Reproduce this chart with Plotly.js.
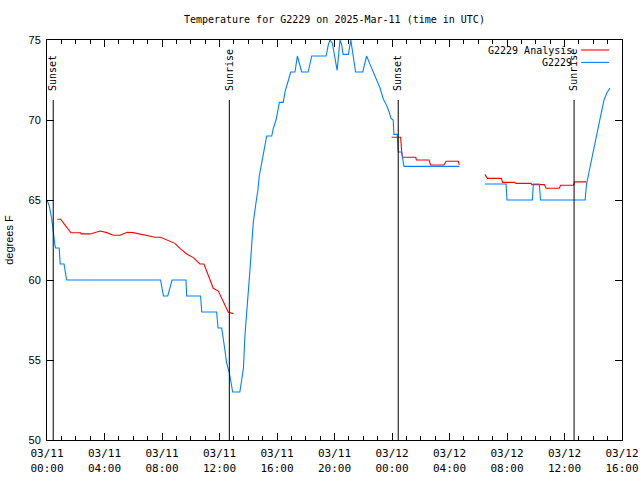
<!DOCTYPE html>
<html>
<head>
<meta charset="utf-8">
<script src="https://cdn.plot.ly/plotly-3.0.1.min.js"></script>
<style>html,body{margin:0;padding:0;background:#fff;}#chart{width:640px;height:480px;}</style>
</head>
<body>
<div id="chart"></div>
<script>
// G2229 observations
const obsTime = [
'2025-03-11 00:00','2025-03-11 00:10','2025-03-11 00:20','2025-03-11 00:26','2025-03-11 00:33','2025-03-11 00:36','2025-03-11 00:51','2025-03-11 00:55','2025-03-11 01:11','2025-03-11 01:22',
'2025-03-11 07:54','2025-03-11 08:06','2025-03-11 08:24','2025-03-11 08:42','2025-03-11 09:40','2025-03-11 09:43','2025-03-11 10:41','2025-03-11 10:46','2025-03-11 11:48','2025-03-11 11:54',
'2025-03-11 12:09','2025-03-11 12:19','2025-03-11 12:26','2025-03-11 12:30','2025-03-11 12:41','2025-03-11 12:51','2025-03-11 12:55','2025-03-11 13:25','2025-03-11 13:32','2025-03-11 13:40',
'2025-03-11 13:46','2025-03-11 13:53','2025-03-11 14:00','2025-03-11 14:07','2025-03-11 14:21','2025-03-11 14:26','2025-03-11 14:32','2025-03-11 14:40','2025-03-11 14:46','2025-03-11 14:56',
'2025-03-11 15:03','2025-03-11 15:10','2025-03-11 15:17','2025-03-11 15:38','2025-03-11 15:45','2025-03-11 15:56','2025-03-11 16:06','2025-03-11 16:10','2025-03-11 16:26','2025-03-11 16:34',
'2025-03-11 16:48','2025-03-11 16:57','2025-03-11 17:15','2025-03-11 17:25','2025-03-11 17:43','2025-03-11 18:10','2025-03-11 18:25','2025-03-11 19:25','2025-03-11 19:34','2025-03-11 19:41',
'2025-03-11 19:51','2025-03-11 20:01','2025-03-11 20:11','2025-03-11 20:23','2025-03-11 20:30','2025-03-11 20:36','2025-03-11 20:58','2025-03-11 21:08','2025-03-11 21:18','2025-03-11 21:28',
'2025-03-11 21:58','2025-03-11 22:14','2025-03-11 22:25','2025-03-11 22:39','2025-03-11 22:56','2025-03-11 23:10','2025-03-11 23:24','2025-03-11 23:38','2025-03-11 23:48','2025-03-11 23:56',
'2025-03-12 00:05','2025-03-12 00:08','2025-03-12 00:22','2025-03-12 00:26','2025-03-12 00:40','2025-03-12 00:50','2025-03-12 04:41','2025-03-12 05:30','2025-03-12 06:28','2025-03-12 07:56',
'2025-03-12 08:00','2025-03-12 09:46','2025-03-12 09:50','2025-03-12 10:15','2025-03-12 10:20','2025-03-12 13:26','2025-03-12 13:32','2025-03-12 13:48','2025-03-12 14:02','2025-03-12 14:16',
'2025-03-12 14:30','2025-03-12 14:45','2025-03-12 14:57','2025-03-12 15:10'
];
const obsTemp = [
65.0,64.6,63.8,62.9,62.2,62.0,62.0,61.0,61.0,60.0,
60.0,59.0,59.0,60.0,60.0,59.0,59.0,58.0,58.0,57.0,
57.0,56.0,55.0,54.8,54.2,53.5,53.0,53.0,53.8,54.5,
56.5,58.1,59.6,60.6,63.6,64.3,64.8,65.6,66.5,67.3,
67.8,68.4,69.0,69.0,69.5,70.0,70.8,71.1,71.1,71.8,
72.5,73.0,73.0,74.0,73.0,73.0,74.0,74.0,74.7,75.0,
74.8,74.0,73.1,75.0,74.7,74.1,74.1,75.0,74.1,73.0,
73.0,74.0,73.6,73.1,72.6,72.0,71.3,70.9,70.5,70.1,
70.0,69.1,69.1,68.0,68.0,67.1,67.1,null,66.0,66.0,
65.0,65.0,66.0,66.0,65.0,65.0,66.0,67.1,68.1,69.2,
70.2,71.25,71.7,72.0
];

// G2229 Analysis
const anaTime = [
'2025-03-11 00:43','2025-03-11 00:57','2025-03-11 01:17','2025-03-11 01:40','2025-03-11 02:20','2025-03-11 02:22','2025-03-11 03:00','2025-03-11 03:22','2025-03-11 03:42','2025-03-11 04:10',
'2025-03-11 04:37','2025-03-11 05:05','2025-03-11 05:35','2025-03-11 06:00','2025-03-11 06:28','2025-03-11 07:03','2025-03-11 07:31','2025-03-11 07:54','2025-03-11 08:20','2025-03-11 08:54',
'2025-03-11 09:15','2025-03-11 09:43','2025-03-11 10:11','2025-03-11 10:38','2025-03-11 10:55','2025-03-11 11:13','2025-03-11 11:34','2025-03-11 11:55','2025-03-11 12:16','2025-03-11 12:37',
'2025-03-11 12:58','2025-03-11 18:00','2025-03-11 23:59','2025-03-12 00:36','2025-03-12 00:40','2025-03-12 00:44','2025-03-12 01:39','2025-03-12 01:42','2025-03-12 02:35','2025-03-12 02:41',
'2025-03-12 03:37','2025-03-12 03:46','2025-03-12 04:37','2025-03-12 04:41','2025-03-12 05:30','2025-03-12 06:28','2025-03-12 06:38','2025-03-12 07:36','2025-03-12 07:42','2025-03-12 08:31',
'2025-03-12 08:38','2025-03-12 09:40','2025-03-12 09:44','2025-03-12 10:36','2025-03-12 10:43','2025-03-12 11:38','2025-03-12 11:44','2025-03-12 12:37','2025-03-12 12:43','2025-03-12 13:32'
];
const anaTemp = [
63.8,63.8,63.4,62.95,62.95,62.88,62.88,62.98,63.06,62.96,
62.8,62.8,62.98,62.96,62.88,62.77,62.67,62.67,62.5,62.29,
61.98,61.63,61.4,61.0,61.0,60.3,59.48,59.31,58.65,57.98,
57.9,null,68.92,68.92,68.1,67.67,67.67,67.5,67.5,67.19,
67.19,67.42,67.42,67.19,null,66.6,66.35,66.35,66.1,66.1,
66.04,66.04,65.96,65.96,65.73,65.73,65.92,65.92,66.13,66.13
];

// Sunrise / sunset markers
const sunTimes = ['2025-03-11 00:26','2025-03-11 12:41','2025-03-12 00:26','2025-03-12 12:40'];
const sunLabels = ['Sunset','Sunrise','Sunset','Sunrise'];
const sunLineTop = 71.25;

const seriesNames = ['G2229 Analysis','G2229'];
const seriesColors = ['#ff0000','#0080ff'];

const mono = 'DejaVu Sans Mono, monospace';
const sans = 'Liberation Sans, Arial, sans-serif';

const traces = [
  {x: anaTime, y: anaTemp, type: 'scatter', mode: 'lines', name: seriesNames[0],
   line: {color: seriesColors[0], width: 1.1}, connectgaps: false, showlegend: false},
  {x: obsTime, y: obsTemp, type: 'scatter', mode: 'lines', name: seriesNames[1],
   line: {color: seriesColors[1], width: 1.1}, connectgaps: false, showlegend: false}
];

const shapes = sunTimes.map(t => ({
  type: 'line', xref: 'x', yref: 'y', x0: t, x1: t, y0: 50, y1: sunLineTop,
  line: {color: '#000', width: 1}
}));

const annotations = sunTimes.map((t, i) => ({
  x: t, y: 71.7, xref: 'x', yref: 'y', text: sunLabels[i], textangle: -90,
  showarrow: false, xanchor: 'center', yanchor: 'bottom',
  font: {family: mono, size: 10, color: '#000'}
}));

// custom legend (text right, sample line after it)
const legendY = [0.975, 0.944];
seriesNames.forEach((n, i) => {
  annotations.push({x: 0.9165, y: legendY[i], xref: 'paper', yref: 'paper', text: n,
    showarrow: false, xanchor: 'right', yanchor: 'middle',
    font: {family: mono, size: 10, color: '#000'}});
  shapes.push({type: 'line', xref: 'paper', yref: 'paper', x0: 0.929, x1: 0.9775,
    y0: legendY[i], y1: legendY[i], line: {color: seriesColors[i], width: 1.1}});
});

const layout = {
  width: 640, height: 480,
  margin: {l: 47, r: 18, t: 40, b: 40},
  paper_bgcolor: '#fff', plot_bgcolor: '#fff',
  showlegend: false,
  title: {text: 'Temperature for G2229 on 2025-Mar-11 (time in UTC)',
    font: {family: mono, size: 10, color: '#000'},
    x: 0.5225, xanchor: 'center', y: 0.96, yanchor: 'middle'},
  xaxis: {
    type: 'date', range: ['2025-03-11 00:00', '2025-03-12 16:00'],
    tick0: '2025-03-11 00:00', dtick: 4 * 3600000,
    tickformat: '%m/%d<br>%H:%M',
    ticks: 'inside', ticklen: 7, tickcolor: '#000', tickwidth: 1,
    ticklabelstandoff: 3,
    minor: {dtick: 3600000, ticks: 'inside', ticklen: 4, tickcolor: '#000', showgrid: false},
    showline: true, linecolor: '#000', linewidth: 1, mirror: 'ticks',
    showgrid: false, zeroline: false,
    tickfont: {family: mono, size: 11, color: '#000'},
    fixedrange: true
  },
  yaxis: {
    range: [50, 75], dtick: 5, tick0: 50,
    ticks: 'inside', ticklen: 7, tickcolor: '#000', tickwidth: 1,
    ticklabelstandoff: 3,
    showline: true, linecolor: '#000', linewidth: 1, mirror: 'ticks',
    showgrid: false, zeroline: false,
    tickfont: {family: sans, size: 11, color: '#000'},
    title: {text: 'degrees F', font: {family: sans, size: 11, color: '#000'}, standoff: 12},
    fixedrange: true
  },
  shapes: shapes,
  annotations: annotations
};

Plotly.newPlot('chart', traces, layout, {staticPlot: true, displayModeBar: false});
</script>
</body>
</html>
